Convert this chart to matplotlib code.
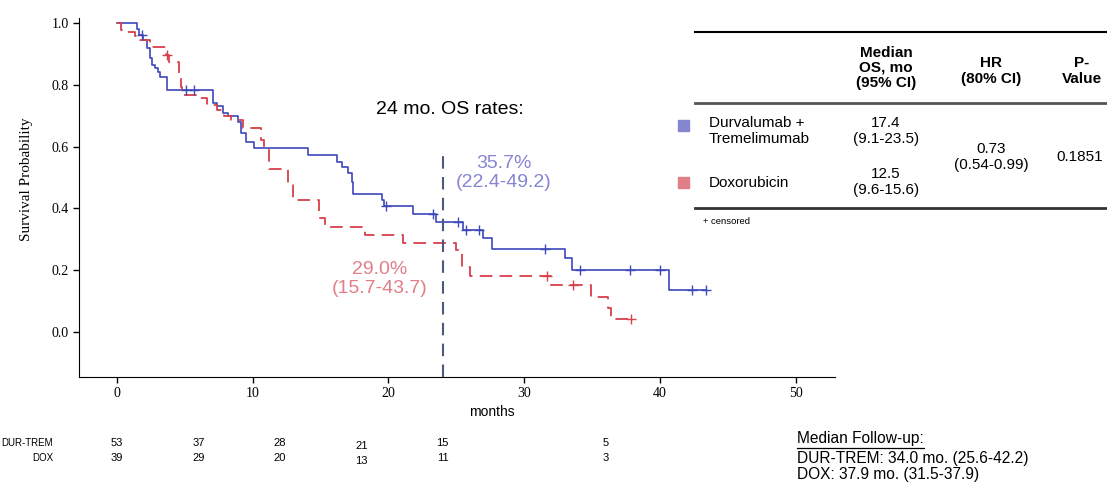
import numpy as np
import matplotlib
matplotlib.use("Agg")
import matplotlib.pyplot as plt
from matplotlib.lines import Line2D
from matplotlib.patches import Rectangle
import matplotlib.transforms as mtransforms

# ---------------------------------------------------------------------------
# Data
# ---------------------------------------------------------------------------

# Durvalumab + Tremelimumab: step times (months) and survival after each step
dur_time = [0, 1.45, 1.6, 1.9, 2.2, 2.4, 2.55, 2.8, 3.0, 3.2, 3.7, 7.1, 7.4, 7.8,
            8.2, 8.9, 9.1, 9.5, 10.1, 14.1, 16.2, 16.6, 17.0, 17.3, 17.4, 19.5,
            19.7, 21.8, 23.5, 25.5, 27.0, 27.6, 33.0, 33.5, 40.7, 43.4]
dur_surv = [1.0, 0.982, 0.96, 0.945, 0.92, 0.886, 0.864, 0.853, 0.842, 0.826,
            0.783, 0.74, 0.73, 0.71, 0.70, 0.68, 0.643, 0.616, 0.594, 0.573,
            0.551, 0.535, 0.514, 0.486, 0.447, 0.427, 0.406, 0.382, 0.357, 0.33,
            0.303, 0.269, 0.238, 0.2, 0.136, 0.136]
dur_cens = [1.85, 5.1, 5.7, 19.8, 23.3, 25.1, 25.7, 26.7, 31.5, 34.1, 37.8,
            40.0, 42.4, 43.4]

# Doxorubicin
dox_time = [0, 0.3, 0.7, 1.3, 1.7, 2.4, 3.6, 3.8, 4.6, 4.7, 4.8, 5.8, 6.6, 7.4,
            7.9, 8.4, 9.3, 10.6, 10.8, 11.2, 12.6, 13.0, 14.9, 15.3, 18.3, 21.1,
            25.0, 25.4, 26.0, 32.0, 34.9, 36.2, 36.4, 37.9]
dox_surv = [1.0, 0.977, 0.972, 0.958, 0.945, 0.923, 0.896, 0.875, 0.83, 0.794,
            0.767, 0.756, 0.735, 0.718, 0.70, 0.686, 0.66, 0.62, 0.594, 0.527,
            0.476, 0.427, 0.37, 0.341, 0.314, 0.287, 0.265, 0.211, 0.181, 0.152,
            0.114, 0.077, 0.042, 0.042]
dox_cens = [3.65, 31.7, 33.6, 37.9]

# numbers at risk
risk_times = [0, 6, 12, 18, 24, 36]
risk_dur = [53, 37, 28, 21, 15, 5]
risk_dox = [39, 29, 20, 13, 11, 3]

os24_time = 24
os24_dur = "35.7%\n(22.4-49.2)"
os24_dox = "29.0%\n(15.7-43.7)"

x_ticks = [0, 10, 20, 30, 40, 50]
y_ticks = [0.0, 0.2, 0.4, 0.6, 0.8, 1.0]

# ---------------------------------------------------------------------------
# Styles
# ---------------------------------------------------------------------------
W, H = 1107, 482
BLUE = "#3d48bb"
RED = "#d8404c"
BLUE_LIGHT = "#8585d2"
RED_LIGHT = "#e07f88"
VLINE = "#4b5a7a"
SANS = ["Liberation Sans", "DejaVu Sans"]
SERIF = ["Liberation Serif", "DejaVu Serif"]


def fp(x, y):
    """pixel position -> figure fraction"""
    return x / W, 1 - y / H


def step_value(times, surv, t):
    idx = np.searchsorted(times, t, side="right") - 1
    return np.asarray(surv)[idx]


fig = plt.figure(figsize=(W / 100, H / 100), dpi=100)
l, b = fp(79, 377)
r, t = fp(835, 18)
ax = fig.add_axes([l, b, r - l, t - b])

ax.step(dur_time, dur_surv, where="post", color=BLUE, lw=1.2)
ax.step(dox_time, dox_surv, where="post", color=RED, lw=1.3,
        linestyle=(0, (7, 4)))
ax.plot(dur_cens, step_value(dur_time, dur_surv, dur_cens), ls="none",
        marker="+", ms=7, mew=1.0, color=BLUE)
ax.plot(dox_cens, step_value(dox_time, dox_surv, dox_cens), ls="none",
        marker="+", ms=7, mew=1.0, color=RED)

ax.set_xlim(-2.8, 52.9)
ax.set_ylim(-0.146, 1.016)
ax.vlines(os24_time, -0.146, 0.595, color=VLINE, lw=1.5,
          linestyle=(0, (6, 4)))

for side in ["top", "right"]:
    ax.spines[side].set_visible(False)
ax.set_xticks(x_ticks)
ax.set_yticks(y_ticks)
ax.set_yticklabels([f"{v:.1f}" for v in y_ticks])
ax.tick_params(labelsize=10, length=4, width=1)
for lab in ax.get_xticklabels() + ax.get_yticklabels():
    lab.set_family(SERIF)
ax.set_ylabel("Survival Probability", family=SERIF, fontsize=11)
ax.yaxis.set_label_coords((33 - 79) / 756, (377 - 179) / 359)
ax.set_xlabel("months", family=SANS, fontsize=10)
ax.xaxis.set_label_coords((492 - 79) / 756, -(405 - 377) / 359)

# 24-month annotations
ax.text(*fp(450, 110), "24 mo. OS rates:", transform=fig.transFigure,
        ha="center", va="center", fontsize=14, family=SANS)
ax.text(*fp(504, 173), os24_dur, transform=fig.transFigure, ha="center",
        va="center", fontsize=14, family=SANS, color=BLUE_LIGHT,
        linespacing=1.1)
ax.text(*fp(380, 279), os24_dox, transform=fig.transFigure, ha="center",
        va="center", fontsize=14, family=SANS, color=RED_LIGHT,
        linespacing=1.1)

# numbers at risk (x in data coordinates, y in figure coordinates)
trans = mtransforms.blended_transform_factory(ax.transData, fig.transFigure)
for tm, nd, nx in zip(risk_times, risk_dur, risk_dox):
    dy = 3 if tm == 18 else 0
    fig.text(tm, fp(0, 443 + dy)[1], str(nd), transform=trans, ha="center",
             va="center", fontsize=8, family=SANS)
    fig.text(tm, fp(0, 458 + dy)[1], str(nx), transform=trans, ha="center",
             va="center", fontsize=8, family=SANS)
fig.text(*fp(53, 443), "DUR-TREM", ha="right", va="center", fontsize=7,
         family=SANS)
fig.text(*fp(53, 458), "DOX", ha="right", va="center", fontsize=7,
         family=SANS)

# ---------------------------------------------------------------------------
# Summary table on the right
# ---------------------------------------------------------------------------
for y, lw, c in [(32, 1.5, "black"), (103, 2.0, "#555555"), (208, 2.0, "#333333")]:
    x0, yy = fp(695, y)
    fig.add_artist(Line2D([x0, 1.0], [yy, yy], color=c, lw=lw,
                          transform=fig.transFigure))

hdr = dict(ha="center", va="center", fontsize=11, family=SANS,
           fontweight="bold", linespacing=1.1)
fig.text(*fp(886, 68), "Median\nOS, mo\n(95% CI)", **hdr)
fig.text(*fp(991, 71), "HR\n(80% CI)", **hdr)
fig.text(*fp(1082, 71), "P-\nValue", **hdr)

cell = dict(va="center", fontsize=11, family=SANS, linespacing=1.1)
for (x, y), c in [((678, 120), BLUE_LIGHT), ((678, 177), RED_LIGHT)]:
    x0, y0 = fp(x, y + 11)
    fig.add_artist(Rectangle((x0, y0), 11 / W, 11 / H, color=c,
                             transform=fig.transFigure))
fig.text(*fp(709, 131), "Durvalumab +\nTremelimumab", ha="left", **cell)
fig.text(*fp(709, 183), "Doxorubicin", ha="left", **cell)
fig.text(*fp(886, 131), "17.4\n(9.1-23.5)", ha="center", **cell)
fig.text(*fp(886, 182), "12.5\n(9.6-15.6)", ha="center", **cell)
fig.text(*fp(991, 157), "0.73\n(0.54-0.99)", ha="center", **cell)
fig.text(*fp(1080, 157), "0.1851", ha="center", **cell)
fig.text(*fp(703, 222), "+ censored", ha="left", va="center", fontsize=6.8,
         family=SANS)

# Median follow-up
fu = dict(ha="left", va="center", fontsize=11.2, family=SANS)
head = fig.text(*fp(797, 439), "Median Follow-up:", **fu)
fig.text(*fp(797, 458), "DUR-TREM: 34.0 mo. (25.6-42.2)", **fu)
fig.text(*fp(797, 475), "DOX: 37.9 mo. (31.5-37.9)", **fu)
bb = head.get_window_extent(renderer=fig.canvas.get_renderer())
uy = fp(0, 447.5)[1]
fig.add_artist(Line2D([bb.x0 / W, bb.x1 / W], [uy, uy], color="black", lw=0.9,
                      transform=fig.transFigure))

fig.savefig("out.png", dpi=100)
